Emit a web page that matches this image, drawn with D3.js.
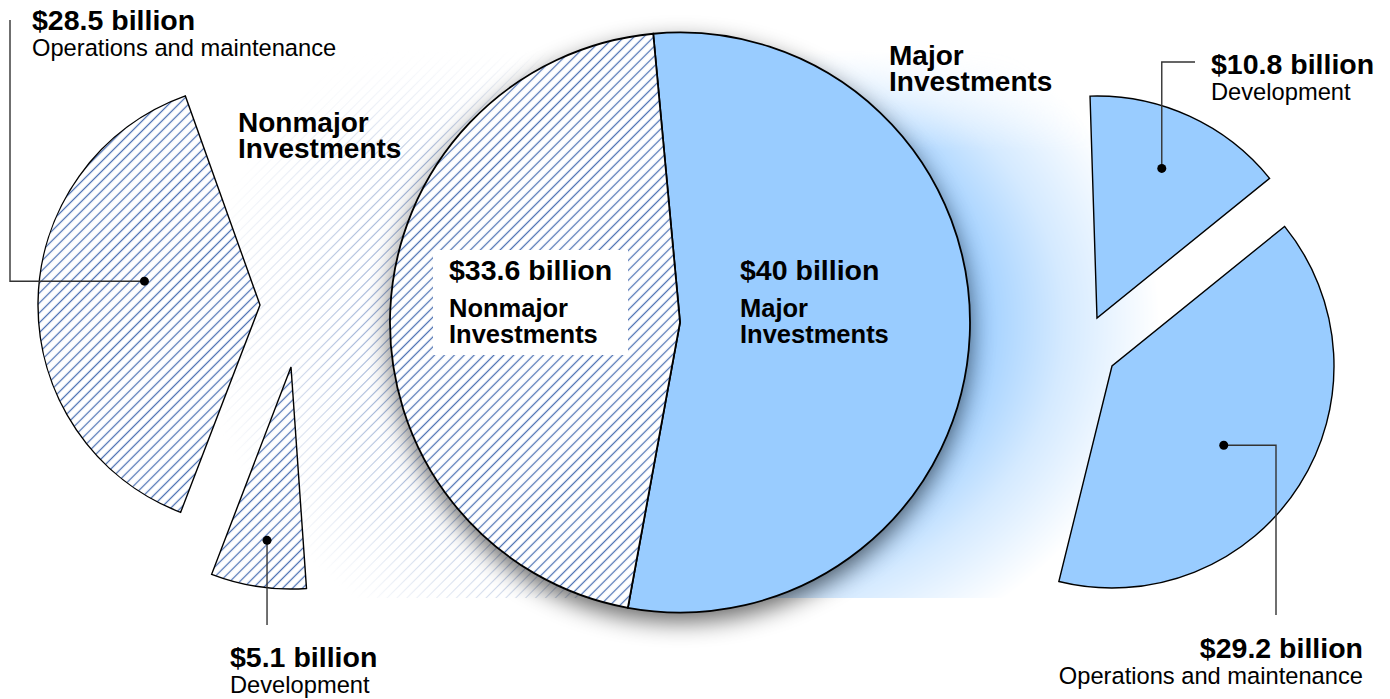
<!DOCTYPE html>
<html><head><meta charset="utf-8">
<script src="https://cdn.jsdelivr.net/npm/d3@7"></script>
<style>
html,body{margin:0;padding:0;background:#fff;}
svg{display:block;font-family:"Liberation Sans",Arial,Helvetica,sans-serif;}
</style>
</head><body>
<svg id="chart" width="1390" height="699"></svg>
<script>
// ---------------- DATA ----------------
const totalCategories = ["Major Investments", "Nonmajor Investments"];
const totalValues = [40, 33.6];
const totalValueLabels = ["$40 billion", "$33.6 billion"];
const totalNameLines = [["Major", "Investments"], ["Nonmajor", "Investments"]];

const nonmajorParts = ["Development", "Operations and maintenance"];
const nonmajorValues = [5.1, 28.5];
const nonmajorValueLabels = ["$5.1 billion", "$28.5 billion"];

const majorParts = ["Development", "Operations and maintenance"];
const majorValues = [10.8, 29.2];
const majorValueLabels = ["$10.8 billion", "$29.2 billion"];

// ---------------- LAYOUT ----------------
const W = 1390, H = 699;
const deg = Math.PI / 180;
const mainC = [680, 322.5], mainR = 290, mainStart = -5.3 * deg;
const subR = 222;
const leftStart = 176 * deg, rightStart = -1.8 * deg;
const leftApex = [[291, 367], [260, 305]];     // dev, ops
const rightApex = [[1097, 318], [1112, 366]];  // dev, ops
const blue = "#99ccff";
const hatchGap = 7;

const svg = d3.select("#chart");
const defs = svg.append("defs");

// hatch pattern for pieces
const hp = defs.append("pattern").attr("id", "hatch").attr("patternUnits", "userSpaceOnUse")
  .attr("width", hatchGap).attr("height", hatchGap).attr("patternTransform", "rotate(45)");
hp.append("rect").attr("width", hatchGap).attr("height", hatchGap).attr("fill", "#fff");
hp.append("line").attr("x1", hatchGap / 2).attr("y1", -1).attr("x2", hatchGap / 2).attr("y2", hatchGap + 1)
  .attr("stroke", "#4d72b4").attr("stroke-width", 1.25);

// light background hatch
const bp = defs.append("pattern").attr("id", "bghatch").attr("patternUnits", "userSpaceOnUse")
  .attr("width", hatchGap).attr("height", hatchGap).attr("patternTransform", "rotate(45)");
bp.append("line").attr("x1", hatchGap / 2).attr("y1", -1).attr("x2", hatchGap / 2).attr("y2", hatchGap + 1)
  .attr("stroke", "#8ea5cf").attr("stroke-width", 1.1);

// radial fade mask
const rg = defs.append("radialGradient").attr("id", "fade").attr("gradientUnits", "userSpaceOnUse")
  .attr("cx", mainC[0]).attr("cy", mainC[1]).attr("r", 480)
  .attr("gradientTransform", `translate(${mainC[0]},${mainC[1]}) scale(1,0.78) translate(${-mainC[0]},${-mainC[1]})`);
rg.append("stop").attr("offset", 0.6).attr("stop-color", "#fff");
rg.append("stop").attr("offset", 0.8).attr("stop-color", "#6a6a6a");
rg.append("stop").attr("offset", 1).attr("stop-color", "#000");
defs.append("mask").attr("id", "bgmask").attr("maskUnits", "userSpaceOnUse")
  .attr("x", 0).attr("y", 0).attr("width", W).attr("height", H)
  .append("rect").attr("width", W).attr("height", H).attr("fill", "url(#fade)");

// vertical fade mask (top)
const lg = defs.append("linearGradient").attr("id", "vfade").attr("gradientUnits", "userSpaceOnUse")
  .attr("x1", 0).attr("y1", 50).attr("x2", 0).attr("y2", 150);
lg.append("stop").attr("offset", 0).attr("stop-color", "#000");
lg.append("stop").attr("offset", 1).attr("stop-color", "#fff");
defs.append("mask").attr("id", "vmask").attr("maskUnits", "userSpaceOnUse")
  .attr("x", 0).attr("y", 0).attr("width", W).attr("height", H)
  .append("rect").attr("width", W).attr("height", H).attr("fill", "url(#vfade)");

// shadow filter
const f = defs.append("filter").attr("id", "shadow").attr("x", "-30%").attr("y", "-30%")
  .attr("width", "160%").attr("height", "160%");
f.append("feGaussianBlur").attr("stdDeviation", 12);

// ---------------- BACKGROUND ----------------
const bg = svg.append("g").attr("mask", "url(#vmask)").append("g").attr("mask", "url(#bgmask)");
bg.append("rect").attr("x", 180).attr("y", 30).attr("width", mainC[0] - 180).attr("height", 598 - 30)
  .attr("fill", "url(#bghatch)");
bg.append("rect").attr("x", mainC[0]).attr("y", 30).attr("width", 1290 - mainC[0]).attr("height", 598 - 30)
  .attr("fill", blue);

// shadow of main pie
svg.append("circle").attr("cx", mainC[0]).attr("cy", mainC[1] + 9).attr("r", mainR)
  .attr("fill", "#000").attr("opacity", 0.6).attr("filter", "url(#shadow)");

// ---------------- MAIN PIE ----------------
const grandTotal = d3.sum(totalValues);
const angle = d3.scaleLinear().domain([0, grandTotal]).range([0, 2 * Math.PI]);

const mainPie = d3.pie().sort(null).value(d => d.v)
  .startAngle(mainStart).endAngle(mainStart + 2 * Math.PI);
const mainData = mainPie(totalCategories.map((c, i) => ({c, v: totalValues[i], i})));
const mainArc = d3.arc().innerRadius(0).outerRadius(mainR);

const mg = svg.append("g").attr("transform", `translate(${mainC})`);
mg.selectAll("path").data(mainData).join("path")
  .attr("d", mainArc)
  .attr("fill", d => d.data.i === 0 ? blue : "url(#hatch)")
  .attr("stroke", "#000").attr("stroke-width", 1.8).attr("stroke-linejoin", "miter");

// label box for nonmajor
svg.append("rect").attr("x", 433).attr("y", 250).attr("width", 195).attr("height", 105).attr("fill", "#fff");

const mainLabelX = [740, 449];
totalCategories.forEach((c, i) => {
  const t = svg.append("text").attr("x", mainLabelX[i]).attr("fill", "#000").attr("font-weight", "bold");
  t.append("tspan").attr("x", mainLabelX[i]).attr("y", 280).attr("font-size", 28.5).text(totalValueLabels[i]);
  t.append("tspan").attr("x", mainLabelX[i]).attr("y", 317).attr("font-size", 25.5).text(totalNameLines[i][0]);
  t.append("tspan").attr("x", mainLabelX[i]).attr("y", 343).attr("font-size", 25.5).text(totalNameLines[i][1]);
});

// ---------------- SUB PIES ----------------
const subArc = d3.arc().innerRadius(0).outerRadius(subR);
function subPie(values, start) {
  const span = angle(d3.sum(values));
  return d3.pie().sort(null).value(d => d)
    .startAngle(start).endAngle(start + span)(values);
}
const leftData = subPie(nonmajorValues, leftStart);
const rightData = subPie(majorValues, rightStart);

leftData.forEach((d, i) => {
  svg.append("path").attr("transform", `translate(${leftApex[i]})`)
    .attr("d", subArc(d)).attr("fill", "url(#hatch)")
    .attr("stroke", "#000").attr("stroke-width", 1.4).attr("stroke-linejoin", "miter");
});
rightData.forEach((d, i) => {
  svg.append("path").attr("transform", `translate(${rightApex[i]})`)
    .attr("d", subArc(d)).attr("fill", blue)
    .attr("stroke", "#000").attr("stroke-width", 1.4).attr("stroke-linejoin", "miter");
});

// ---------------- LEADERS & LABELS ----------------
function dotPos(d, apex, r, nudge) {
  const a = (d.startAngle + d.endAngle) / 2 + nudge * deg;
  return [apex[0] + r * Math.sin(a), apex[1] - r * Math.cos(a)];
}
const leaders = [
  {p: dotPos(leftData[1], leftApex[1], 118, 11), path: p => [p, [10, p[1]], [10, 20]]},
  {p: dotPos(leftData[0], leftApex[0], 175, -0.6), path: p => [p, [p[0], 625]]},
  {p: dotPos(rightData[0], rightApex[0], 163, -1.2), path: p => [p, [p[0], 62], [1195, 62]]},
  {p: dotPos(rightData[1], rightApex[1], 137, 2.9), path: p => [p, [1276, p[1]], [1276, 615]]}
];
const line = d3.line();
leaders.forEach(l => {
  svg.append("path").attr("d", line(l.path(l.p))).attr("fill", "none")
    .attr("stroke", "#333").attr("stroke-width", 1.4);
  svg.append("circle").attr("cx", l.p[0]).attr("cy", l.p[1]).attr("r", 4.5).attr("fill", "#000");
});

function valueLabel(x, y, anchor, value, name) {
  const g = svg.append("g").attr("text-anchor", anchor).attr("fill", "#000");
  g.append("text").attr("x", x).attr("y", y).attr("font-size", 28.5).attr("font-weight", "bold").text(value);
  g.append("text").attr("x", x).attr("y", y + 26).attr("font-size", 23.7).text(name);
}
valueLabel(32, 30, "start", nonmajorValueLabels[1], nonmajorParts[1]);
valueLabel(230, 667, "start", nonmajorValueLabels[0], nonmajorParts[0]);
valueLabel(1211, 74, "start", majorValueLabels[0], majorParts[0]);
valueLabel(1363, 658, "end", majorValueLabels[1], majorParts[1]);

// group titles
function title(x, y, lines) {
  const t = svg.append("text").attr("font-size", 28).attr("font-weight", "bold").attr("fill", "#000");
  lines.forEach((s, k) => t.append("tspan").attr("x", x).attr("y", y + k * 26).text(s));
}
title(238, 132, totalNameLines[1]);
title(889, 65, totalNameLines[0]);
</script>
</body></html>
